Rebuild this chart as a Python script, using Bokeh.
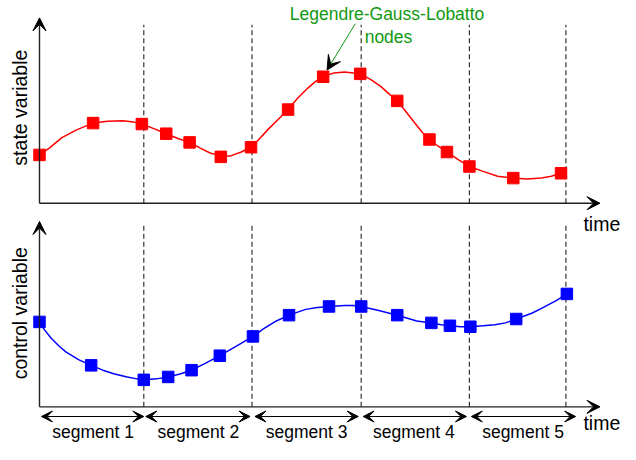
from bokeh.plotting import figure
from bokeh.models import Range1d, Arrow, VeeHead, ColumnDataSource
from bokeh.core.properties import value
from bokeh.embed import file_html
from bokeh.resources import INLINE
import math

FONT = value("Liberation Sans")

# ---- data ----
segment_bounds = [0.0, 1.07, 2.18, 3.30, 4.41, 5.40]
segment_labels = ["segment 1", "segment 2", "segment 3", "segment 4", "segment 5"]
segment_label_t = [0.55, 1.63, 2.74, 3.84, 4.96]
segment_arrow_start = [0.02, 1.09, 2.21, 3.32, 4.43]
segment_arrow_end = [1.07, 2.16, 3.27, 4.38, 5.50]

# LGL nodes, state
state_node_t = [0.00, 0.55, 1.05, 1.30, 1.54, 1.86, 2.17, 2.55, 2.91, 3.29,
                3.67, 4.00, 4.18, 4.41, 4.86, 5.35]
state_node_v = [1.00, 1.66, 1.64, 1.44, 1.26, 0.96, 1.16, 1.94, 2.62, 2.68,
                2.12, 1.32, 1.06, 0.76, 0.52, 0.62]
# state trajectory (curve)
state_curve_t = [0.00, 0.10, 0.23, 0.38, 0.55, 0.70, 0.85, 0.97, 1.05,
                 1.18, 1.30, 1.42, 1.54, 1.65, 1.75, 1.86, 1.96, 2.07, 2.17,
                 2.25, 2.35, 2.45, 2.55, 2.65, 2.75, 2.83, 2.91, 3.02, 3.13, 3.22, 3.29,
                 3.40, 3.50, 3.60, 3.67, 3.75, 3.85, 3.93, 4.00, 4.09, 4.18, 4.30, 4.41,
                 4.55, 4.70, 4.86, 5.00, 5.15, 5.25, 5.35]
state_curve_v = [1.00, 1.14, 1.36, 1.52, 1.66, 1.70, 1.71, 1.68, 1.64,
                 1.54, 1.44, 1.34, 1.26, 1.14, 1.04, 0.98, 0.98, 1.06, 1.16,
                 1.32, 1.54, 1.74, 1.94, 2.18, 2.38, 2.52, 2.62, 2.70, 2.72, 2.70, 2.68,
                 2.56, 2.42, 2.24, 2.12, 1.92, 1.66, 1.46, 1.32, 1.18, 1.06, 0.90, 0.76,
                 0.66, 0.56, 0.52, 0.50, 0.52, 0.56, 0.62]

# LGL nodes, control
control_node_t = [0.00, 0.53, 1.07, 1.32, 1.56, 1.85, 2.19, 2.56, 2.97, 3.30,
                  3.67, 4.02, 4.21, 4.42, 4.89, 5.41]
control_node_v = [1.76, 0.86, 0.56, 0.62, 0.76, 1.06, 1.46, 1.90, 2.08, 2.08,
                  1.90, 1.74, 1.68, 1.66, 1.82, 2.34]
control_curve_t = [0.00, 0.05, 0.12, 0.20, 0.27, 0.40, 0.53, 0.65, 0.77, 0.90, 1.00, 1.07,
                   1.20, 1.32, 1.44, 1.56, 1.70, 1.85, 2.02, 2.19,
                   2.30, 2.43, 2.56, 2.73, 2.85, 2.97, 3.13, 3.22, 3.30,
                   3.47, 3.67, 3.87, 4.02, 4.12, 4.21, 4.32, 4.42,
                   4.55, 4.67, 4.78, 4.89, 5.05, 5.17, 5.30, 5.41]
control_curve_v = [1.76, 1.60, 1.42, 1.26, 1.14, 0.98, 0.86, 0.76, 0.68, 0.62, 0.58, 0.56,
                   0.58, 0.62, 0.68, 0.76, 0.90, 1.06, 1.26, 1.46,
                   1.62, 1.78, 1.90, 2.02, 2.06, 2.08, 2.10, 2.10, 2.08,
                   2.00, 1.90, 1.78, 1.74, 1.70, 1.68, 1.66, 1.66,
                   1.68, 1.70, 1.74, 1.82, 1.94, 2.06, 2.20, 2.34]

# ---- figure ----
p = figure(width=620, height=444, output_backend="svg", toolbar_location=None,
           x_range=Range1d(-0.40, 5.96), y_range=Range1d(-5.00, 4.20),
           x_axis_location=None, y_axis_location=None, min_border=0,
           outline_line_color=None, background_fill_color="white")
p.extra_y_ranges = {"control": Range1d(-0.78, 8.42)}
p.grid.visible = False

AX = "#222222"

def head(sz):
    return VeeHead(size=sz, fill_color="black", line_color="black")

# axes with arrow heads (state panel)
p.add_layout(Arrow(end=head(13), x_start=0, y_start=0, x_end=0, y_end=3.84,
                   line_color=AX, line_width=1.4))
p.add_layout(Arrow(end=head(13), x_start=0, y_start=0, x_end=5.75, y_end=0,
                   line_color=AX, line_width=1.4))
# axes (control panel)
p.add_layout(Arrow(end=head(13), x_start=0, y_start=0, x_end=0, y_end=3.84,
                   y_range_name="control", line_color=AX, line_width=1.4))
p.add_layout(Arrow(end=head(13), x_start=0, y_start=0, x_end=5.75, y_end=0,
                   y_range_name="control", line_color=AX, line_width=1.4))

# dashed segment boundaries
bnd = segment_bounds[1:]
p.segment(x0=bnd, x1=bnd, y0=[0] * len(bnd), y1=[3.70] * len(bnd),
          line_color="#333333", line_width=1.2, line_dash="5 3")
p.segment(x0=bnd, x1=bnd, y0=[0] * len(bnd), y1=[3.76] * len(bnd),
          line_color="#333333", line_width=1.2, line_dash="5 3", y_range_name="control")

# curves and nodes
p.line(state_curve_t, state_curve_v, line_color="#ff0000", line_width=1.5)
p.scatter(state_node_t, state_node_v, marker="square", size=11.5,
          fill_color="#ff0000", line_color="#ff0000")
p.line(control_curve_t, control_curve_v, line_color="#0000ff", line_width=1.5,
       y_range_name="control")
p.scatter(control_node_t, control_node_v, marker="square", size=11.5,
          fill_color="#0000ff", line_color="#0000ff", y_range_name="control")

# segment double arrows
seg_src = ColumnDataSource(dict(x0=segment_arrow_start, x1=segment_arrow_end,
                                y=[-0.20] * 5))
p.add_layout(Arrow(start=head(11), end=head(11),
                   x_start="x0", y_start="y", x_end="x1", y_end="y", source=seg_src,
                   y_range_name="control", line_color="black", line_width=1.2))
p.text(x=segment_label_t, y=[-0.52] * 5, text=segment_labels, y_range_name="control",
       text_font=FONT, text_font_size="17.5px", text_align="center",
       text_baseline="middle", text_color="black")

# axis labels
p.text(x=[-0.20], y=[1.98], text=["state variable"], angle=math.pi / 2,
       text_font=FONT, text_font_size="19.5px", text_align="center",
       text_baseline="middle", text_color="black")
p.text(x=[-0.20], y=[1.94], text=["control variable"], angle=math.pi / 2,
       y_range_name="control",
       text_font=FONT, text_font_size="19.5px", text_align="center",
       text_baseline="middle", text_color="black")
p.text(x=[5.58], y=[-0.44], text=["time"], text_font=FONT, text_font_size="19.5px",
       text_align="left", text_baseline="middle", text_color="black")
p.text(x=[5.58], y=[-0.34], text=["time"], y_range_name="control",
       text_font=FONT, text_font_size="19.5px",
       text_align="left", text_baseline="middle", text_color="black")

# annotation
GREEN = "#119911"
p.text(x=[3.565], y=[3.91], text=["Legendre-Gauss-Lobatto"], text_font=FONT,
       text_font_size="17.5px", text_align="center", text_baseline="middle",
       text_color=GREEN)
p.text(x=[3.58], y=[3.44], text=["nodes"], text_font=FONT,
       text_font_size="17.5px", text_align="center", text_baseline="middle",
       text_color=GREEN)
p.add_layout(Arrow(end=head(14), x_start=3.24, y_start=3.72, x_end=2.95, y_end=2.76,
                   line_color=GREEN, line_width=1.0))

open("out.html", "w").write(file_html(p, INLINE))
